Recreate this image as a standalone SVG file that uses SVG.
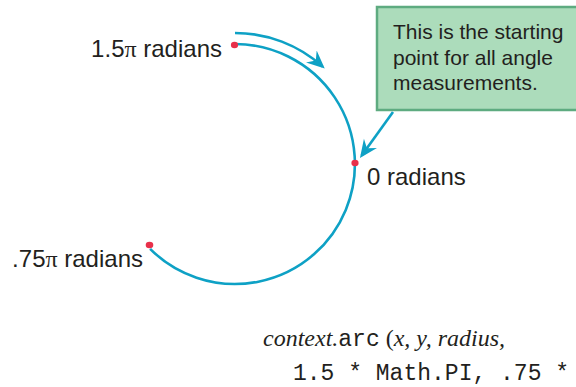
<svg xmlns="http://www.w3.org/2000/svg" width="576" height="387" viewBox="0 0 576 387">
<style>
.lbl{font-family:"Liberation Sans",Arial,sans-serif;font-size:24px;fill:#231f20}
.pi{font-family:"Liberation Serif","Times New Roman",serif}
.call{font-family:"Liberation Sans",Arial,sans-serif;font-size:21px;fill:#231f20}
.code{font-size:24px;fill:#231f20;font-family:"Liberation Serif","Times New Roman",serif}
.it{font-style:italic}
.mono{font-family:"Liberation Mono","Courier New",monospace;font-size:23px}
.blue{fill:none;stroke:#0ea1c5;stroke-width:2.6}
.dot{fill:#e8304a}
</style>
<defs>
<marker id="ah" markerUnits="userSpaceOnUse" viewBox="0 -9 22 18" markerWidth="22" markerHeight="18" refX="15" refY="0" orient="auto">
<path d="M0,-8 L18,0 L0,8 L6,0 Z" fill="#0ea1c5"/>
</marker>
</defs>
<g id="connectors">
<path id="circle-arc" class="blue" d="M235,44 A120,120 0 1 1 150.1,248.9"/>
<path id="direction-arrow" class="blue" d="M235,33 A131,131 0 0 1 322.5,66.5" marker-end="url(#ah)"/>
<path id="callout-arrow" class="blue" d="M393,112 L361.7,155.6" marker-end="url(#ah)"/>
</g>
<g id="callout">
<rect x="377" y="7" width="212" height="103" fill="#acdcbb" stroke="#5eab80" stroke-width="2.5"/>
<text class="call" x="393" y="39">This is the starting</text>
<text class="call" x="393" y="64.5">point for all angle</text>
<text class="call" x="393" y="90">measurements.</text>
</g>
<g id="start-point">
<ellipse class="dot" cx="234.5" cy="45" rx="3.6" ry="3.2"/>
<text class="lbl" x="222" y="57" text-anchor="end">1.5<tspan class="pi">π</tspan> radians</text>
</g>
<g id="zero-point">
<ellipse class="dot" cx="355" cy="163" rx="3.6" ry="3.2"/>
<text class="lbl" x="367" y="185">0 radians</text>
</g>
<g id="end-point">
<ellipse class="dot" cx="149.5" cy="245" rx="3.8" ry="3.2"/>
<text class="lbl" x="143" y="267" text-anchor="end">.75<tspan class="pi">π</tspan> radians</text>
</g>
<g id="code">
<text class="code" x="263" y="346"><tspan class="it">context.</tspan><tspan class="mono">arc</tspan> (<tspan class="it">x, y, radius,</tspan></text>
<text class="code" x="293" y="380"><tspan class="mono">1.5 * Math.PI, .75 *</tspan></text>
</g>
</svg>
